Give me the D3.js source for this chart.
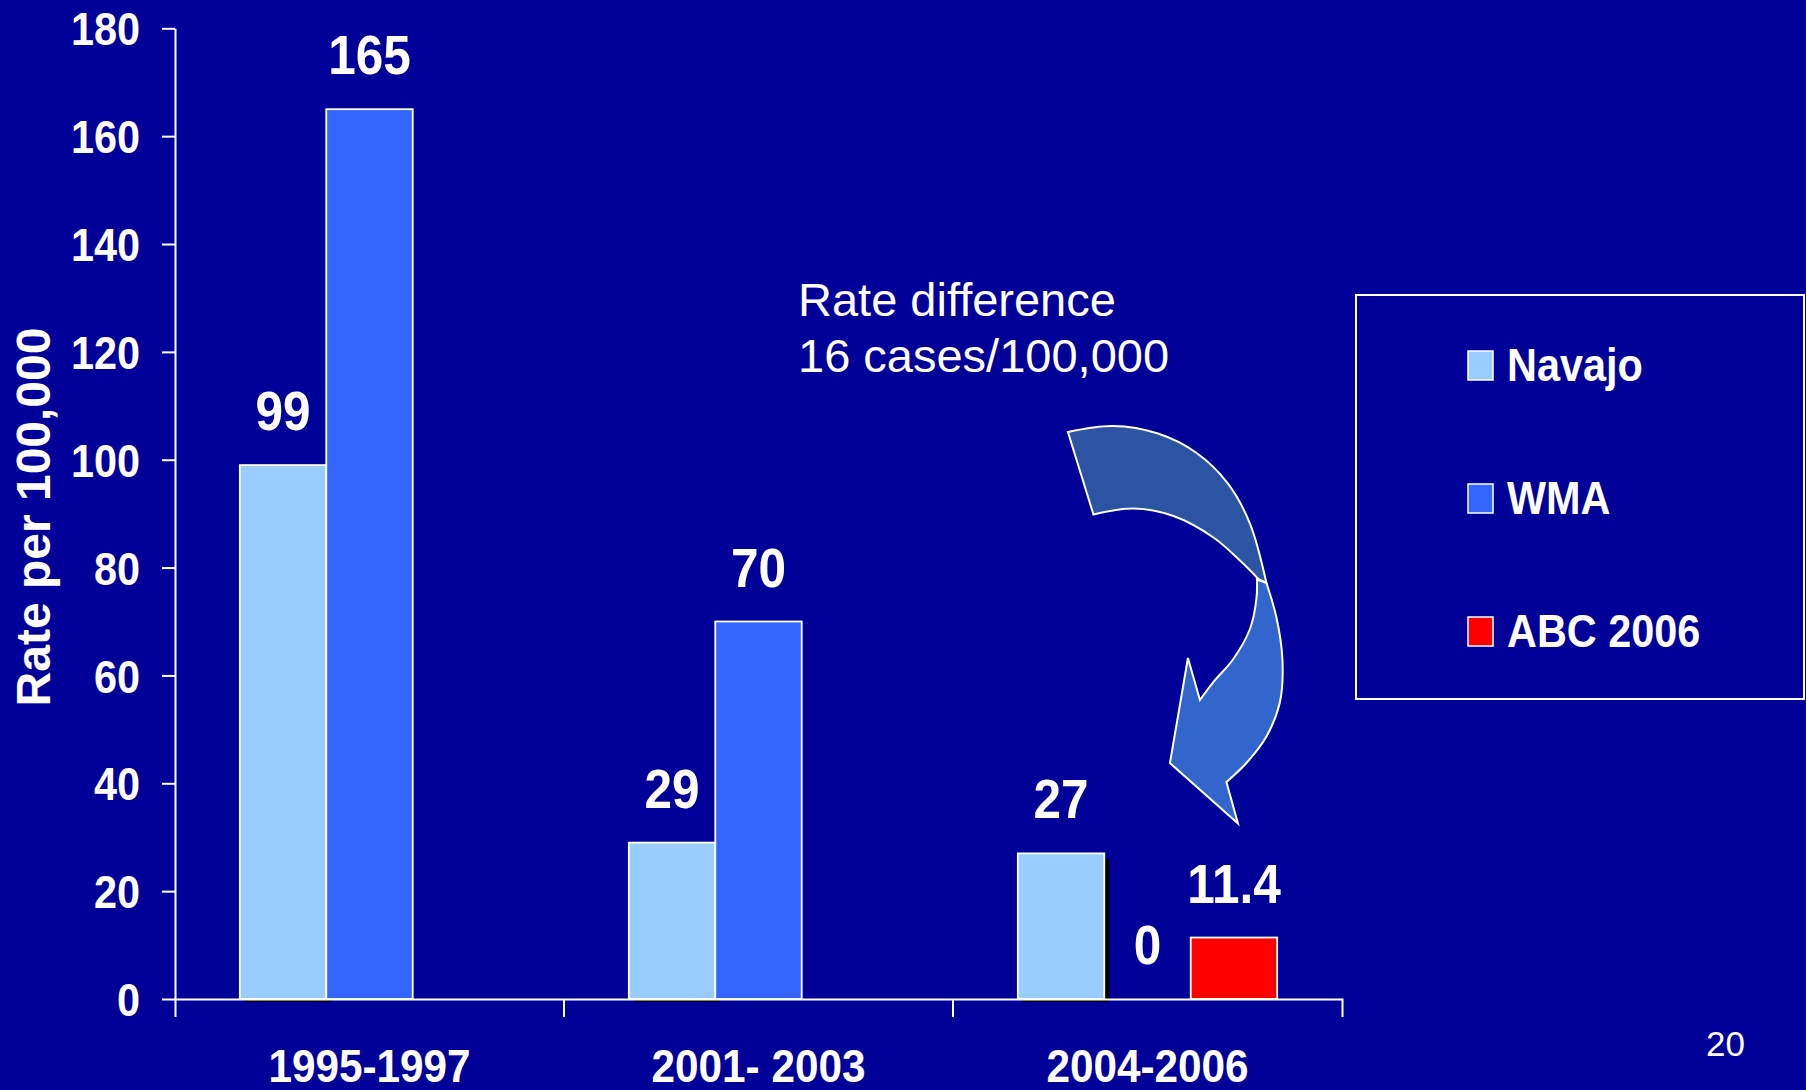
<!DOCTYPE html>
<html>
<head>
<meta charset="utf-8">
<script src="https://cdn.jsdelivr.net/npm/d3@7"></script>
<style>
  html, body { margin: 0; padding: 0; background: #000099; overflow: hidden; }
  svg { display: block; }
  text { font-family: "Liberation Sans", Arial, Helvetica, sans-serif; fill: #ffffff; }
</style>
</head>
<body>
<svg id="chart" width="1806" height="1090"></svg>
<script>
// ---- data ----
const periods = ["1995-1997", "2001- 2003", "2004-2006"];
const seriesNames = ["Navajo", "WMA", "ABC 2006"];
const navajoRates = [99, 29, 27];
const wmaRates = [165, 70, 0];
const abcRates = [null, null, 11.4];
const yTickValues = [0, 20, 40, 60, 80, 100, 120, 140, 160, 180];
const seriesColors = ["#99ccff", "#3366ff", "#ff0000"];
const yTitle = "Rate per 100,000";
const noteLines = ["Rate difference", "16 cases/100,000"];
const pageNumber = "20";

const seriesValues = [navajoRates, wmaRates, abcRates];

// ---- layout ----
const plot = { left: 175, right: 1342, top: 28.3, bottom: 999 };
const squeeze = 0.9;          // horizontal compression of the chart's bold lettering
const white = "#ffffff";

const svg = d3.select("#chart");

const x = d3.scaleBand().domain(periods).range([plot.left, plot.right]).padding(0);
const xs = d3.scaleBand().domain(seriesNames).range([0, x.bandwidth()])
  .paddingInner(0).paddingOuter(0.75);
const y = d3.scaleLinear().domain([0, 180]).range([plot.bottom, plot.top]);

const rows = [];
periods.forEach((p, i) => {
  seriesNames.forEach((s, j) => {
    const v = seriesValues[j][i];
    if (v !== null && v !== undefined) rows.push({ period: p, series: s, si: j, value: v });
  });
});

// condensed bold label anchored at (px, py)
function condensed(parent, px, py, str, size, anchor) {
  parent.append("g")
    .attr("transform", `translate(${px},${py})`)
    .append("text")
    .attr("transform", `scale(${squeeze},1)`)
    .attr("text-anchor", anchor || "middle")
    .attr("font-weight", "bold")
    .attr("font-size", size)
    .text(str);
}

// ---- bars ----
const barLayer = svg.append("g");

// drop shadow behind the Navajo bars
barLayer.selectAll("rect.shadow")
  .data(rows.filter(d => d.si === 0))
  .join("rect")
  .attr("class", "shadow")
  .attr("x", d => x(d.period) + xs(d.series) + 5)
  .attr("y", d => y(d.value) + 5)
  .attr("width", xs.bandwidth())
  .attr("height", d => y(0) - y(d.value) - 2)
  .attr("fill", "#000000");

barLayer.selectAll("rect.bar")
  .data(rows.filter(d => d.value > 0))
  .join("rect")
  .attr("class", "bar")
  .attr("x", d => x(d.period) + xs(d.series))
  .attr("y", d => y(d.value))
  .attr("width", xs.bandwidth())
  .attr("height", d => y(0) - y(d.value))
  .attr("fill", d => seriesColors[d.si])
  .attr("stroke", white)
  .attr("stroke-width", 1.8);

// ---- axes ----
const yAxisG = svg.append("g")
  .attr("transform", `translate(${plot.left},0)`)
  .call(d3.axisLeft(y).tickValues(yTickValues).tickSize(13).tickSizeOuter(0).tickPadding(22));
yAxisG.selectAll("path, line").attr("stroke", white).attr("stroke-width", 2);
yAxisG.selectAll("text")
  .attr("fill", white)
  .attr("font-size", 46)
  .attr("font-weight", "bold")
  .attr("font-family", null)
  .attr("x", -35 / squeeze)
  .attr("dy", "0.36em")
  .attr("transform", `scale(${squeeze},1)`);

const xAxisG = svg.append("g")
  .attr("transform", `translate(0,${plot.bottom})`)
  .call(d3.axisBottom(x).tickSizeInner(0).tickSizeOuter(18).tickPadding(0));
xAxisG.selectAll("path, line").attr("stroke", white).attr("stroke-width", 2);
xAxisG.selectAll("text")
  .attr("fill", white)
  .attr("font-size", 47)
  .attr("font-weight", "bold")
  .attr("font-family", null)
  .attr("y", 83)
  .attr("dy", 0)
  .attr("transform", `scale(${squeeze},1)`);

// separators between period groups
xAxisG.selectAll("line.sep")
  .data(periods.slice(1))
  .join("line")
  .attr("class", "sep")
  .attr("x1", d => x(d)).attr("x2", d => x(d))
  .attr("y1", 0).attr("y2", 18)
  .attr("stroke", white).attr("stroke-width", 2);

// y axis title
svg.append("text")
  .attr("transform", `translate(50,517) rotate(-90)`)
  .attr("text-anchor", "middle")
  .attr("font-size", 48)
  .attr("font-weight", "bold")
  .text(yTitle);

// ---- value labels ----
const labelLayer = svg.append("g");
rows.forEach(d => {
  const cx = x(d.period) + xs(d.series) + xs.bandwidth() / 2;
  condensed(labelLayer, cx, y(d.value) - 35, String(d.value), 55, "middle");
});

// ---- curved arrow from the note down to the ABC 2006 bar ----
const abcRow = rows.find(d => d.si === 2);
const tip = [x(abcRow.period) + xs(abcRow.series) + xs.bandwidth() / 2 + 4, y(abcRow.value) - 114];

// outline offsets relative to the arrow tip
const backOuter = [[-170, -391.5], [-125, -397.5], [-80, -390], [-42, -371], [-10, -340], [12, -300], [28.5, -240.5]];
const backInner = [[20, -245], [2, -263], [-24.5, -286], [-64.5, -307.5], [-104.5, -315], [-144.5, -309]];
const frontOuter = [[28.5, -240.5], [38.5, -206], [44.5, -164], [42, -121.5], [28.5, -87], [8.5, -60.5], [-11.5, -41.5]];
const frontHead = [[0, 0], [-68, -60.5], [-50, -165.5]];
const frontInner = [[-38, -123.5], [-25, -141], [-5, -164], [12, -194.5], [18.5, -225], [19, -244]];

const smooth = d3.line().curve(d3.curveCatmullRom.alpha(0.5));
const straight = pts => pts.map(p => `L${p[0]},${p[1]}`).join("");
const cont = pts => smooth(pts).replace(/^M/, "L");

const arrowG = svg.append("g").attr("transform", `translate(${tip[0]},${tip[1]})`);
arrowG.append("path")
  .attr("d", smooth(backOuter) + cont(backInner) + "Z")
  .attr("fill", "#2b54a3")
  .attr("stroke", white)
  .attr("stroke-width", 2)
  .attr("stroke-linejoin", "miter");
arrowG.append("path")
  .attr("d", smooth(frontOuter) + straight(frontHead) + cont(frontInner) + "Z")
  .attr("fill", "#3366cc")
  .attr("stroke", white)
  .attr("stroke-width", 2)
  .attr("stroke-linejoin", "miter");

// ---- annotation text ----
const note = svg.append("text")
  .attr("x", 798)
  .attr("y", 316)
  .attr("font-size", 47);
note.selectAll("tspan")
  .data(noteLines)
  .join("tspan")
  .attr("x", 798)
  .attr("dy", (d, i) => i === 0 ? 0 : 56)
  .text(d => d);

// ---- legend ----
const legend = svg.append("g");
legend.append("rect")
  .attr("x", 1356).attr("y", 295)
  .attr("width", 448).attr("height", 404)
  .attr("fill", "none")
  .attr("stroke", white)
  .attr("stroke-width", 2);
seriesNames.forEach((name, i) => {
  const base = 381 + i * 133;
  legend.append("rect")
    .attr("x", 1468).attr("y", base - 30)
    .attr("width", 25).attr("height", 29)
    .attr("fill", seriesColors[i])
    .attr("stroke", white)
    .attr("stroke-width", 1.5);
  condensed(legend, 1507, base, name, 46, "start");
});

// ---- page number ----
svg.append("text")
  .attr("x", 1706)
  .attr("y", 1056)
  .attr("font-size", 35)
  .text(pageNumber);
</script>
</body>
</html>
